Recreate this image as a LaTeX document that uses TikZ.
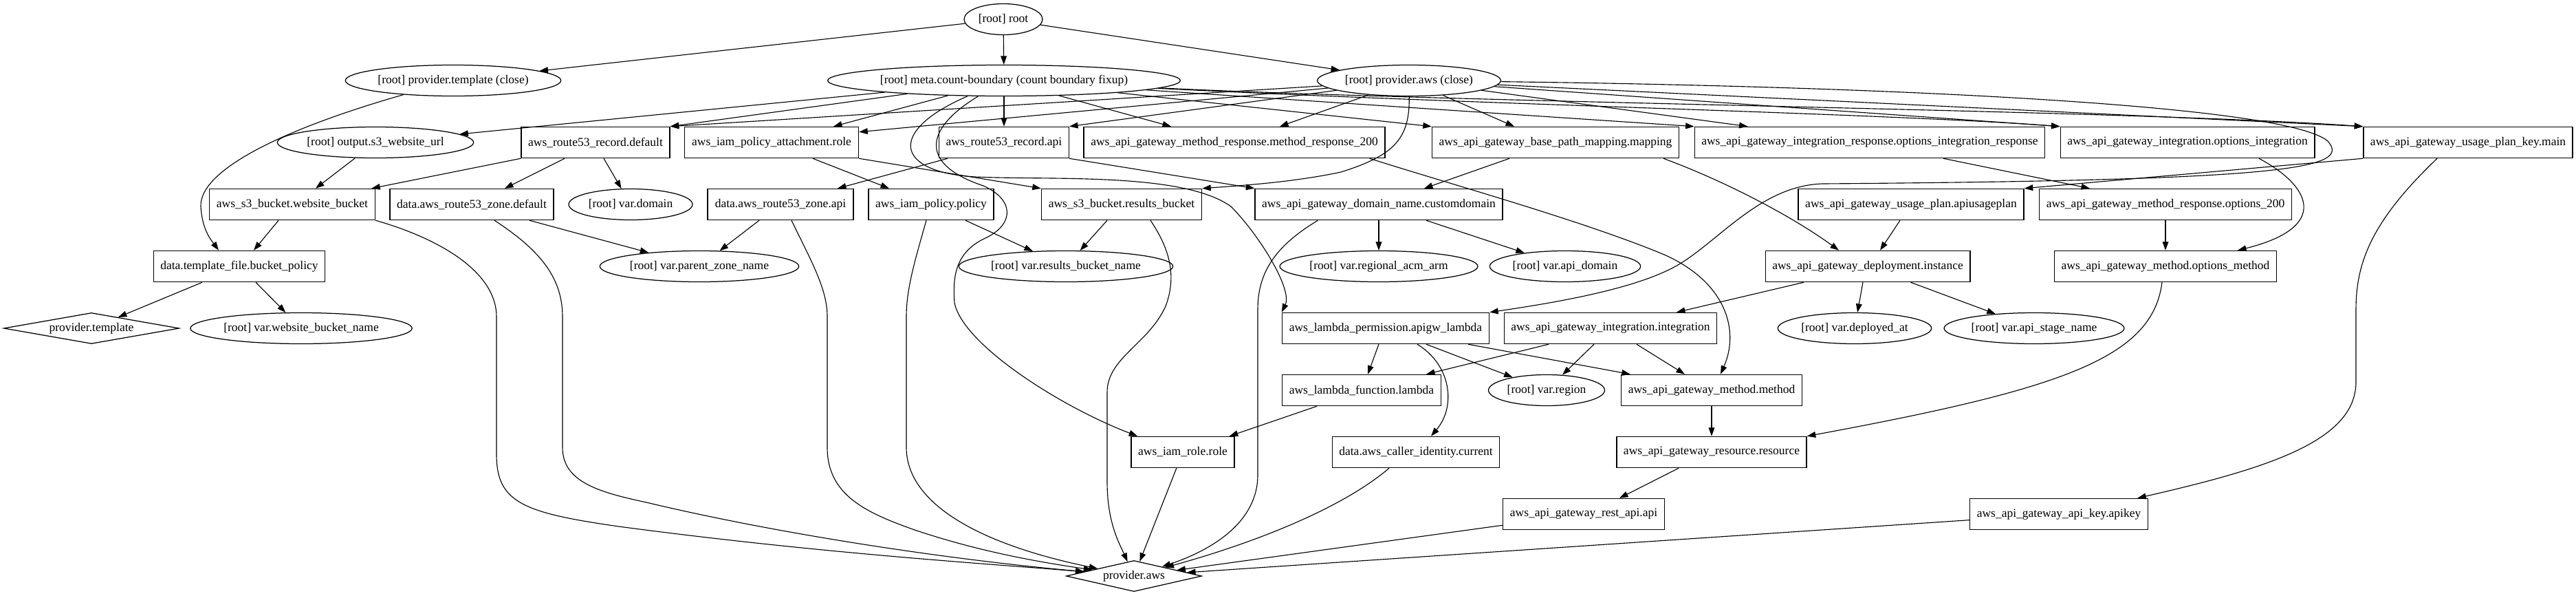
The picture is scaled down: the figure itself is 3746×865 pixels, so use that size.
\documentclass[tikz,border=0pt]{standalone}
\usepackage{fontspec}
\setmainfont{Liberation Serif}
\usetikzlibrary{shapes.geometric,arrows.meta,calc}
\tikzset{
  mw/.style={minimum width=#1*0.8pt},
  base/.style={font=\fontsize{14pt}{17pt}\selectfont, minimum height=36pt},
  box/.style={base, draw, rectangle, line width=1.2pt, inner xsep=8pt, inner ysep=3pt},
  ell/.style={base, draw, ellipse, line width=1pt, inner sep=1pt},
  dia/.style={base, draw, diamond, line width=1pt, inner sep=0pt},
  edg/.style={-{Triangle[length=10pt,width=7pt]}, line width=0.9pt},
}
\begin{document}
\begin{tikzpicture}[x=0.8pt,y=-0.8pt]
\useasboundingbox (0,0) rectangle (3746,865);
% rank 0
\node[ell,mw=114] (root) at (1459,28) {[root] root};
% rank 1
\node[ell,mw=301] (ptc) at (659,117) {[root] provider.template (close)};
\node[ell,mw=479] (meta) at (1460,117) {[root] meta.count-boundary (count boundary fixup)};
\node[ell,mw=261] (pac) at (2049,117) {[root] provider.aws (close)};
% rank 2
\node[ell,mw=277] (s3url) at (546,207) {[root] output.s3\_website\_url};
\node[box,mw=216] (r53def) at (866,207) {aws\_route53\_record.default};
\node[box,mw=253] (iampa) at (1122,207) {aws\_iam\_policy\_attachment.role};
\node[box,mw=188] (r53api) at (1460,207) {aws\_route53\_record.api};
\node[box,mw=438] (mr200) at (1795,207) {aws\_api\_gateway\_method\_response.method\_response\_200};
\node[box,mw=359] (bpm) at (2262,207) {aws\_api\_gateway\_base\_path\_mapping.mapping};
\node[box,mw=508] (ir) at (2719,207) {aws\_api\_gateway\_integration\_response.options\_integration\_response};
\node[box,mw=368] (oi) at (3181,207) {aws\_api\_gateway\_integration.options\_integration};
\node[box,mw=304] (upk) at (3589,207) {aws\_api\_gateway\_usage\_plan\_key.main};
% rank 3
\node[box,mw=241] (wb) at (425,297) {aws\_s3\_bucket.website\_bucket};
\node[box,mw=238] (zdef) at (686,297) {data.aws\_route53\_zone.default};
\node[ell,mw=180] (vdomain) at (917,297) {[root] var.domain};
\node[box,mw=212] (zapi) at (1135,297) {data.aws\_route53\_zone.api};
\node[box,mw=182] (pol) at (1354,297) {aws\_iam\_policy.policy};
\node[box,mw=233] (rb) at (1631,297) {aws\_s3\_bucket.results\_bucket};
\node[box,mw=359] (cd) at (2005,297) {aws\_api\_gateway\_domain\_name.customdomain};
\node[box,mw=328] (up) at (2779,297) {aws\_api\_gateway\_usage\_plan.apiusageplan};
\node[box,mw=367] (mro) at (3149,297) {aws\_api\_gateway\_method\_response.options\_200};
% rank 4
\node[box,mw=248] (bp) at (348,387) {data.template\_file.bucket\_policy};
\node[ell,mw=281] (vpzn) at (1017,387) {[root] var.parent\_zone\_name};
\node[ell,mw=300] (vrbn) at (1550,387) {[root] var.results\_bucket\_name};
\node[ell,mw=278] (vacm) at (2005,387) {[root] var.regional\_acm\_arm};
\node[ell,mw=218] (vapid) at (2276,387) {[root] var.api\_domain};
\node[box,mw=297] (dep) at (2716,387) {aws\_api\_gateway\_deployment.instance};
\node[box,mw=322] (om) at (3149,387) {aws\_api\_gateway\_method.options\_method};
% rank 5
\node[dia,mw=255,shape aspect=5.67] (pt) at (133,477) {provider.template};
\node[ell,mw=312] (vwbn) at (438,477) {[root] var.website\_bucket\_name};
\node[box,mw=301] (lp) at (2015,477) {aws\_lambda\_permission.apigw\_lambda};
\node[box,mw=309] (integ) at (2342,477) {aws\_api\_gateway\_integration.integration};
\node[ell,mw=222] (vdep) at (2697,477) {[root] var.deployed\_at};
\node[ell,mw=255] (vstage) at (2958,477) {[root] var.api\_stage\_name};
% rank 6
\node[box,mw=231] (lf) at (1980,567) {aws\_lambda\_function.lambda};
\node[ell,mw=169] (vreg) at (2249,567) {[root] var.region};
\node[box,mw=263] (mm) at (2489,567) {aws\_api\_gateway\_method.method};
% rank 7
\node[box,mw=150] (role) at (1720,657) {aws\_iam\_role.role};
\node[box,mw=243] (cid) at (2059,657) {data.aws\_caller\_identity.current};
\node[box,mw=276] (res) at (2489,657) {aws\_api\_gateway\_resource.resource};
% rank 8
\node[box,mw=235] (rest) at (2303,747) {aws\_api\_gateway\_rest\_api.api};
\node[box,mw=259] (key) at (2994,747) {aws\_api\_gateway\_api\_key.apikey};
% rank 9
\node[dia,mw=197,shape aspect=4.38] (pa) at (1649,837) {provider.aws};

% ---- edges from root
\draw[edg] (root) -- (ptc);
\draw[edg] (root) -- (meta);
\draw[edg] (root) -- (pac);
% provider.template (close)
\draw[edg] (ptc) .. controls (420,185) and (290,245) .. (292,300) .. controls (294,335) and (308,350) .. ($(bp.north)+(-30,0)$);
% meta.count-boundary
\draw[edg] (meta) -- (s3url);
\draw[edg] (meta) -- (r53def.north east);
\draw[edg] (meta) -- ($(iampa.north)+(90,0)$);
\draw[edg] (meta) -- (r53api);
\draw[edg] (meta) -- ($(mr200.north)+(-92,0)$);
\draw[edg] (meta) -- (bpm.north west);
\draw[edg] (meta) -- (ir.north west);
\draw[edg] (meta) .. controls (2150,152) and (2750,165) .. (oi.north west);
\draw[edg] (meta) .. controls (2150,150) and (3100,160) .. (upk.north west);
\draw[edg] (meta) .. controls (1290,190) and (1300,250) .. (1418,257) .. controls (1530,262) and (1720,250) .. (1790,300) .. controls (1830,340) and (1880,420) .. (lp.north west);
\draw[edg] (meta) .. controls (1340,190) and (1340,240) .. (1430,270) .. controls (1475,290) and (1475,325) .. (1435,345) .. controls (1390,365) and (1385,400) .. (1388,440) .. controls (1400,500) and (1540,590) .. ($(role.north west)+(10,0)$);
% provider.aws (close)
\draw[edg] (pac) -- (r53def.north east);
\draw[edg] (pac) -- ($(iampa.north east)+(0,8)$);
\draw[edg] (pac) -- (r53api.north east);
\draw[edg] (pac) -- ($(mr200.north)+(66,0)$);
\draw[edg] (pac) -- ($(bpm.north)+(-60,0)$);
\draw[edg] (pac) -- ($(ir.north west)+(78,0)$);
\draw[edg] (pac) -- (oi.north west);
\draw[edg] (pac) -- (upk.north west);
\draw[edg] (pac) .. controls (2050,200) and (2030,225) .. (1950,250) .. controls (1880,265) and (1800,270) .. (rb.north east);
\draw[edg] (pac) .. controls (2700,125) and (3320,150) .. (3385,205) .. controls (3420,245) and (3330,262) .. (2650,267) .. controls (2560,270) and (2500,350) .. (2440,385) .. controls (2380,420) and (2260,440) .. (lp.north east);
% rank 2 sources
\draw[edg] (s3url) -- ($(wb.north)+(34,0)$);
\draw[edg] (r53def.south west) -- ($(wb.north east)+(-6,0)$);
\draw[edg] ($(r53def.south)+(-45,0)$) -- ($(zdef.north)+(48,0)$);
\draw[edg] ($(r53def.south)+(12,0)$) -- (vdomain);
\draw[edg] ($(iampa.south)+(60,0)$) -- ($(pol.north)+(-61,0)$);
\draw[edg] (iampa.south east) -- (rb.north west);
\draw[edg] ($(r53api.south)+(-82,0)$) -- ($(zapi.north)+(83,0)$);
\draw[edg] (r53api.south east) -- (cd.north west);
\draw[edg] ($(mr200.south east)+(-23,0)$) .. controls (2100,265) and (2300,320) .. (2420,370) .. controls (2510,410) and (2530,480) .. ($(mm.north)+(13,0)$);
\draw[edg] ($(bpm.south)+(-67,0)$) -- ($(cd.north)+(66,0)$);
\draw[edg] ($(bpm.south)+(157,0)$) .. controls (2500,260) and (2600,310) .. ($(dep.north)+(-42,0)$);
\draw[edg] ($(ir.south)+(107,0)$) -- ($(mro.north)+(-110,0)$);
\draw[edg] ($(oi.south)+(104,0)$) .. controls (3360,270) and (3390,330) .. ($(om.north)+(105,0)$);
\draw[edg] (upk.south west) -- (up.north east);
\draw[edg] ($(upk.south)+(-45,0)$) .. controls (3450,320) and (3426,380) .. (3426,450) -- (3426,555) .. controls (3426,640) and (3300,680) .. ($(key.north east)+(-16,0)$);
% rank 3 sources
\draw[edg] ($(wb.south)+(-20,0)$) -- ($(bp.north)+(21,0)$);
\draw[edg] (wb.south east) .. controls (650,350) and (722,400) .. (722,460) -- (722,660) .. controls (722,730) and (760,745) .. (900,765) .. controls (1200,805) and (1450,820) .. (pa);
\draw[edg] ($(zdef.south)+(84,0)$) -- (vpzn);
\draw[edg] ($(zdef.south)+(33,0)$) .. controls (780,360) and (818,400) .. (818,460) -- (818,650) .. controls (818,700) and (870,715) .. (940,730) .. controls (1150,780) and (1400,815) .. (pa);
\draw[edg] ($(zapi.south)+(-31,0)$) -- (vpzn);
\draw[edg] ($(zapi.south)+(16,0)$) .. controls (1180,380) and (1203,420) .. (1203,460) -- (1203,650) .. controls (1203,720) and (1260,745) .. (1330,770) .. controls (1420,800) and (1500,815) .. (pa);
\draw[edg] ($(pol.south)+(50,0)$) -- (vrbn);
\draw[edg] ($(pol.south)+(-7,0)$) .. controls (1330,380) and (1318,420) .. (1318,460) -- (1318,650) .. controls (1318,730) and (1420,790) .. (pa);
\draw[edg] ($(rb.south)+(-21,0)$) -- (vrbn);
\draw[edg] ($(rb.south)+(42,0)$) .. controls (1700,360) and (1712,400) .. (1695,445) .. controls (1670,500) and (1610,520) .. (1610,570) -- (1610,700) .. controls (1610,760) and (1628,790) .. (pa);
\draw[edg] (cd) -- (vacm);
\draw[edg] ($(cd.south)+(69,0)$) -- (vapid);
\draw[edg] ($(cd.south west)+(92,0)$) .. controls (1850,360) and (1829,400) .. (1829,450) -- (1829,690) .. controls (1829,760) and (1760,800) .. (pa);
\draw[edg] ($(up.south)+(-16,0)$) -- ($(dep.north)+(18,0)$);
\draw[edg] (mro) -- (om);
% rank 4 sources
\draw[edg] ($(bp.south)+(-54,0)$) -- (pt);
\draw[edg] ($(bp.south)+(24,0)$) -- (vwbn);
\draw[edg] ($(dep.south)+(-93,0)$) -- ($(integ.north)+(96,0)$);
\draw[edg] ($(dep.south)+(-7,0)$) -- (vdep);
\draw[edg] (dep) -- (vstage);
\draw[edg] ($(om.south)+(-5,0)$) .. controls (3130,520) and (3000,565) .. (res.north east);
% rank 5 sources
\draw[edg] ($(lp.south)+(-10,0)$) -- ($(lf.north)+(9,0)$);
\draw[edg] ($(lp.south)+(46,0)$) .. controls (2110,530) and (2118,590) .. ($(cid.north)+(22,0)$);
\draw[edg] ($(lp.south)+(59,0)$) -- (vreg);
\draw[edg] ($(lp.south)+(120,0)$) -- ($(mm.north west)+(14,0)$);
\draw[edg] ($(integ.south)+(-90,0)$) -- ($(lf.north)+(94,0)$);
\draw[edg] ($(integ.south)+(-24,0)$) -- (vreg);
\draw[edg] ($(integ.south)+(38,0)$) -- ($(mm.north)+(-39,0)$);
% rank 6 sources
\draw[edg] ($(lf.south)+(-65,0)$) -- ($(role.north east)+(-8,0)$);
\draw[edg] (mm) -- (res);
% rank 7 sources
\draw[edg] (role) -- (pa);
\draw[edg] ($(cid.south)+(-39,0)$) .. controls (1950,740) and (1820,790) .. (pa);
\draw[edg] ($(res.south)+(-48,0)$) -- ($(rest.north)+(52,0)$);
% rank 8 sources
\draw[edg] (rest) -- (pa);
\draw[edg] (key) -- (pa);
\end{tikzpicture}
\end{document}
